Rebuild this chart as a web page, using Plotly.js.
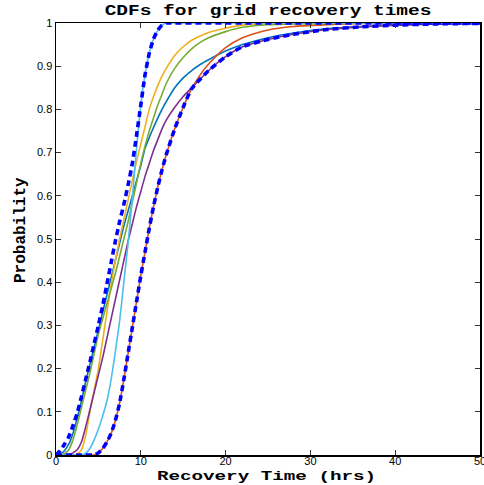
<!DOCTYPE html>
<html>
<head>
<meta charset="utf-8">
<script src="https://cdn.plot.ly/plotly-3.0.1.min.js"></script>
<style>
html,body{margin:0;padding:0;background:#fff;}
#chart{width:484px;height:485px;}
</style>
</head>
<body>
<div id="chart"></div>
<script>
// Recovery time grid (hrs)
const tGrid = [0,0.5,1,1.5,2,2.5,3,3.5,4,4.5,5,5.5,6,6.5,7,7.5,8,8.5,9,9.5,10,10.5,11,11.5,12,12.5,13,14,15,16,17,18,20,22,25,28,32,36,40,45,50];

const cdfBlue = [0,0.002,0.01,0.025,0.05,0.085,0.125,0.17,0.21,0.25,0.29,0.33,0.37,0.41,0.45,0.49,0.53,0.565,0.6,0.635,0.67,0.71,0.735,0.758,0.78,0.8,0.818,0.85,0.873,0.89,0.904,0.915,0.935,0.95,0.966,0.977,0.987,0.992,0.995,0.998,0.999];
const cdfOrange = [0,0,0,0,0,0,0,0,0,0,0.005,0.015,0.03,0.05,0.08,0.12,0.175,0.235,0.295,0.355,0.415,0.47,0.525,0.575,0.62,0.66,0.695,0.755,0.805,0.848,0.88,0.905,0.943,0.966,0.984,0.992,0.996,0.999,1,1,1];
const cdfYellow = [0,0,0,0,0,0.003,0.012,0.045,0.1,0.15,0.2,0.265,0.33,0.395,0.45,0.5,0.545,0.59,0.635,0.68,0.72,0.76,0.8,0.83,0.855,0.877,0.895,0.925,0.945,0.96,0.97,0.978,0.988,0.995,0.999,1,1,1,1,1,1];
const cdfPurple = [0,0,0,0.001,0.005,0.012,0.03,0.065,0.105,0.145,0.185,0.225,0.27,0.315,0.36,0.405,0.45,0.495,0.535,0.575,0.61,0.645,0.675,0.705,0.73,0.755,0.775,0.805,0.83,0.85,0.87,0.89,0.922,0.945,0.962,0.974,0.985,0.991,0.995,0.998,0.999];
const cdfGreen = [0,0,0.003,0.012,0.035,0.07,0.11,0.15,0.19,0.235,0.28,0.315,0.35,0.385,0.42,0.46,0.5,0.54,0.585,0.63,0.675,0.715,0.75,0.78,0.81,0.835,0.86,0.895,0.92,0.94,0.955,0.966,0.98,0.99,0.996,0.998,0.999,1,1,1,1];
const cdfLightBlue = [0,0,0,0,0,0,0,0.004,0.015,0.035,0.06,0.09,0.125,0.175,0.24,0.31,0.4,0.49,0.595,0.71,0.81,0.88,0.93,0.963,0.983,0.995,1,1,1,1,1,1,1,1,1,1,1,1,1,1,1];
const boundUpper = [0,0.01,0.025,0.042,0.068,0.097,0.135,0.175,0.215,0.258,0.3,0.345,0.395,0.445,0.495,0.54,0.58,0.625,0.675,0.74,0.81,0.88,0.93,0.963,0.983,0.995,1,1,1,1,1,1,1,1,1,1,1,1,1,1,1];
const boundLower = [0,0,0,0,0,0,0,0,0,0,0.005,0.015,0.03,0.05,0.08,0.12,0.175,0.235,0.295,0.355,0.415,0.47,0.525,0.575,0.62,0.66,0.695,0.755,0.805,0.848,0.87,0.89,0.922,0.945,0.962,0.974,0.985,0.991,0.995,0.998,0.999];

const xTickVals = [0,10,20,30,40,50];
const xTickText = ['0','10','20','30','40','50'];
const yTickVals = [0,0.1,0.2,0.3,0.4,0.5,0.6,0.7,0.8,0.9,1];
const yTickText = ['0','0.1','0.2','0.3','0.4','0.5','0.6','0.7','0.8','0.9','1'];

function solid(y, color){
  return {x:tGrid, y:y, type:'scatter', mode:'lines', line:{color:color, width:1.6, shape:'spline', smoothing:0.6}, hoverinfo:'skip', showlegend:false};
}
function dashed(y){
  return {x:tGrid, y:y, type:'scatter', mode:'lines', line:{color:'#0000FF', width:3.6, dash:'6px,4px', shape:'spline', smoothing:0.6}, hoverinfo:'skip', showlegend:false};
}

const data = [
  solid(cdfBlue,'#0072BD'),
  solid(cdfOrange,'#D95319'),
  solid(cdfYellow,'#EDB120'),
  solid(cdfPurple,'#7E2F8E'),
  solid(cdfGreen,'#77AC30'),
  solid(cdfLightBlue,'#4DBEEE'),
  dashed(boundUpper),
  dashed(boundLower)
];

const mono = 'Liberation Mono, Courier New, monospace';
const tickFont = {family:'Liberation Sans, Arial, sans-serif', size:11, color:'#000'};
const layout = {
  width:484, height:485,
  margin:{l:56, r:4, t:23, b:30, pad:0},
  paper_bgcolor:'#fff', plot_bgcolor:'#fff',
  showlegend:false,
  title:{text:'CDFs for grid recovery times', font:{family:mono, size:14, color:'#000', weight:'bold'}, x:268/484, xanchor:'center', y:1-11.5/485, yref:'container', yanchor:'middle'},
  xaxis:{range:[0,50], tickvals:xTickVals, ticktext:xTickText, ticks:'inside', ticklen:5, tickwidth:1, tickcolor:'#333',
    showline:true, linecolor:'#000', linewidth:1.5, mirror:'ticks', showgrid:false, zeroline:false,
    ticklabeloverflow:'allow', tickfont:tickFont,
    title:{text:'Recovery Time (hrs)', font:{family:mono, size:13, color:'#000', weight:'bold'}, standoff:2}},
  yaxis:{range:[0,1], tickvals:yTickVals, ticktext:yTickText, ticks:'inside', ticklen:5, tickwidth:1, tickcolor:'#333',
    showline:true, linecolor:'#000', linewidth:1.5, mirror:'ticks', showgrid:false, zeroline:false,
    tickfont:tickFont,
    title:{text:'Probability', font:{family:mono, size:16, color:'#000', weight:'bold'}, standoff:4}}
};

function place(el, cx, cy){
  const r = el.getBoundingClientRect();
  const dx = cx - (r.left + r.width/2);
  const dy = cy - (r.top + r.height/2);
  el.setAttribute('transform', 'translate(' + dx + ',' + dy + ') ' + (el.getAttribute('transform') || ''));
}
function stretch(el, sx){
  const cx = parseFloat(el.getAttribute('x'));
  el.setAttribute('transform', 'translate(' + cx + ',0) scale(' + sx + ',1) translate(' + (-cx) + ',0)');
}

Plotly.newPlot('chart', data, layout, {displayModeBar:false, staticPlot:true}).then(function(){
  const g = document.querySelector('.gtitle');
  const xt = document.querySelector('.xtitle');
  const yt = document.querySelector('.ytitle');
  if (g){ stretch(g, 1.39); place(g, 268, 11); }
  if (xt){ stretch(xt, 1.48); place(xt, 266.5, 476.5); }
  if (yt){ place(yt, 20.5, 230); }
  // nudge x tick labels up a little, as in the reference
  document.querySelectorAll('.xtick text').forEach(function(t){
    t.setAttribute('transform', 'translate(0,-5) ' + (t.getAttribute('transform') || ''));
  });
});
</script>
</body>
</html>
